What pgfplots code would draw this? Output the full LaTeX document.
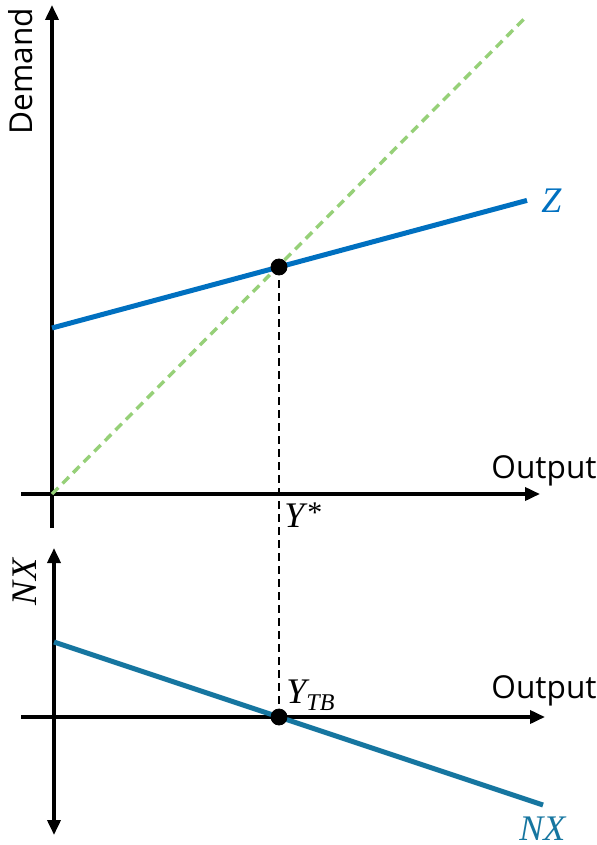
\documentclass[border=0pt]{standalone}
\usepackage{pgfplots}
\pgfplotsset{compat=1.18}
\usepackage{fontspec}
\setmainfont{Open Sans}
\newfontfamily\mf{Liberation Serif}
\usetikzlibrary{arrows.meta}
\definecolor{zblue}{RGB}{0,112,192}
\definecolor{nxteal}{RGB}{22,118,160}
\definecolor{lgreen}{RGB}{150,208,120}
\newcommand{\lab}[1]{{\fontsize{15.8}{18}\selectfont #1}}
\newcommand{\mlab}[1]{{\mf\itshape\fontsize{18}{21}\selectfont #1}}
\pgfplotstableread{
x y
0 0
473 476
}\fortyfive
\pgfplotstableread{
x y
0 166
475 293.6
}\zline
\pgfplotstableread{
x y
0 75
489 -88
}\nxline
\begin{document}
\begin{tikzpicture}
\path[use as bounding box] (0,0) rectangle (298.5pt,-422.5pt);
% top panel
\begin{axis}[
  at={(26pt,-247pt)}, anchor=origin,
  x=0.5pt, y=0.5pt,
  xmin=-31, xmax=488, ymin=-34, ymax=489,
  axis lines=middle, xtick=\empty, ytick=\empty,
  clip=false,
  axis line style={line width=1.8pt, black},
  x axis line style={-{Triangle[length=7.5pt,width=6.5pt]}},
  y axis line style={-{Triangle[length=7.5pt,width=6.5pt]}},
]
\addplot[lgreen, line width=1.7pt, dash pattern=on 4.5pt off 3pt] table[x=x,y=y] {\fortyfive};
\addplot[zblue, line width=2.5pt] table[x=x,y=y] {\zline};
\addplot[black, line width=1.2pt, dash pattern=on 4pt off 2.5pt] coordinates {(227,227) (227,-223)};
\addplot[only marks, mark=*, mark size=4pt, black] coordinates {(227,227)};
\node[rotate=90, inner sep=0] at (axis cs:-31,423) {\lab{Demand}};
\node[anchor=base, inner sep=0] at (axis cs:492,16) {\lab{Output}};
\node[anchor=base west, inner sep=0] at (axis cs:232,-33) {\mlab{Y}\hspace{1.5pt}{\mf\fontsize{15}{16}\selectfont\raisebox{2.5pt}{*}}};
\node[anchor=base west, inner sep=0, text=zblue] at (axis cs:489,281) {\mlab{Z}};
\end{axis}
% bottom panel
\begin{axis}[
  at={(27pt,-358.5pt)}, anchor=origin,
  x=0.5pt, y=0.5pt,
  xmin=-33, xmax=491, ymin=-118, ymax=169,
  axis lines=middle, xtick=\empty, ytick=\empty,
  clip=false,
  axis line style={line width=1.8pt, black},
  x axis line style={-{Triangle[length=7.5pt,width=6.5pt]}},
  y axis line style={{Triangle[length=7.5pt,width=6.5pt]}-{Triangle[length=7.5pt,width=6.5pt]}},
]
\addplot[nxteal, line width=2.5pt] table[x=x,y=y] {\nxline};
\addplot[only marks, mark=*, mark size=4pt, black] coordinates {(225,0)};
\node[rotate=90, inner sep=0] at (axis cs:-29,135) {\mlab{NX}};
\node[anchor=base west, inner sep=0] at (axis cs:490,19) {};
\node[anchor=base, inner sep=0] at (axis cs:490,19) {\lab{Output}};
\node[anchor=base west, inner sep=0] at (axis cs:232,14) {\mlab{Y}\raisebox{-3.5pt}{\mf\itshape\fontsize{12}{13}\selectfont TB}};
\node[anchor=base west, inner sep=0, text=nxteal] at (axis cs:465,-123) {\mlab{NX}};
\end{axis}
\end{tikzpicture}
\end{document}
